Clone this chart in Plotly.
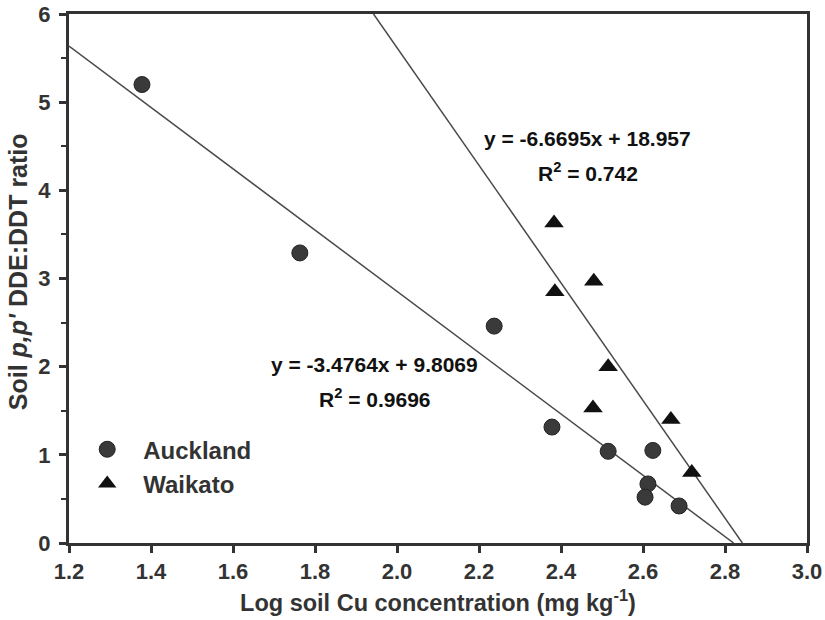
import numpy as np
import plotly.graph_objects as go

# Log soil Cu concentration vs soil p,p'-DDE:DDT ratio
auckland_x = [1.378, 1.763, 2.237, 2.378, 2.515, 2.624, 2.612, 2.605, 2.688]
auckland_y = [5.20, 3.29, 2.46, 1.315, 1.04, 1.05, 0.67, 0.52, 0.42]

waikato_x = [2.383, 2.385, 2.480, 2.515, 2.478, 2.668, 2.719]
waikato_y = [3.63, 2.85, 2.97, 2.00, 1.53, 1.40, 0.80]

# Linear fits (slope, intercept, R^2)
auckland_fit = (-3.4764, 9.8069, 0.9696)
waikato_fit = (-6.6695, 18.957, 0.742)

x_ticks = [1.2, 1.4, 1.6, 1.8, 2.0, 2.2, 2.4, 2.6, 2.8, 3.0]
y_ticks = [0, 1, 2, 3, 4, 5, 6]
x_range = [1.2, 3.0]
y_range = [0, 6]

TEXT = "#333333"
FONT = "Arial, Liberation Sans, sans-serif"


def fit_segment(slope, intercept):
    # clip the fitted line to the plotting window
    x0 = max(x_range[0], (y_range[1] - intercept) / slope)
    x1 = min(x_range[1], (y_range[0] - intercept) / slope)
    xs = np.array([x0, x1])
    return xs, slope * xs + intercept


fig = go.Figure()

for slope, intercept, _ in (auckland_fit, waikato_fit):
    xs, ys = fit_segment(slope, intercept)
    fig.add_trace(go.Scatter(x=xs, y=ys, mode="lines", showlegend=False,
                             line=dict(color="#4a4a4a", width=1.5),
                             hoverinfo="skip"))

fig.add_trace(go.Scatter(
    x=auckland_x, y=auckland_y, mode="markers", name="<b>Auckland</b>",
    marker=dict(symbol="circle", size=16, color="#3a3a3a",
                line=dict(color="#222222", width=1)),
))
fig.add_trace(go.Scatter(
    x=waikato_x, y=waikato_y, mode="markers", name="<b>Waikato</b>",
    marker=dict(symbol="triangle-up", size=17, color="#111111",
                line=dict(width=0)),
))


def eq_text(slope, intercept):
    sign = "+" if intercept >= 0 else "-"
    return f"<b>y = {slope:.4f}x {sign} {abs(intercept):g}</b>"


ann_font = dict(family=FONT, size=21, color="#111111")
annotations = [
    dict(x=2.465, y=4.59, text=eq_text(*waikato_fit[:2])),
    dict(x=2.465, y=4.21, text=f"<b>R<sup>2</sup> = {waikato_fit[2]:g}</b>"),
    dict(x=1.946, y=2.02, text=eq_text(*auckland_fit[:2])),
    dict(x=1.946, y=1.65, text=f"<b>R<sup>2</sup> = {auckland_fit[2]:g}</b>"),
]
for a in annotations:
    fig.add_annotation(**a, xref="x", yref="y", showarrow=False, font=ann_font,
                       xanchor="center", yanchor="middle")

# y-axis title placed as a rotated label beside the axis
fig.add_annotation(
    x=-0.069, y=0.512, xref="paper", yref="paper", showarrow=False,
    text="<b>Soil <i>p,p'</i> DDE:DDT ratio</b>", textangle=-90,
    font=dict(family=FONT, size=25, color=TEXT),
    xanchor="center", yanchor="middle",
)

axis_common = dict(
    showline=True, linewidth=3, linecolor="#333333", mirror=True,
    showgrid=False, zeroline=False, automargin=False,
    ticks="outside", ticklen=7, tickwidth=3, tickcolor="#333333",
    tickfont=dict(family=FONT, size=22, color=TEXT),
)

fig.update_xaxes(
    range=x_range, tickmode="array", tickvals=x_ticks,
    ticktext=[f"<b>{v:.1f}</b>" for v in x_ticks],
    title=dict(text="<b>Log soil Cu concentration (mg kg<sup>-1</sup>)</b>",
               font=dict(family=FONT, size=23.5, color=TEXT),
               standoff=12),
    **axis_common,
)
fig.update_yaxes(
    range=y_range, tickmode="array", tickvals=y_ticks,
    ticktext=[f"<b>{v}</b>" for v in y_ticks],
    ticklabelstandoff=4,
    minor=dict(dtick=0.5, ticks="outside", ticklen=5, tickwidth=2,
               tickcolor="#333333"),
    **axis_common,
)

fig.update_layout(
    width=825, height=620,
    margin=dict(l=69, r=18, t=14, b=77, autoexpand=False),
    paper_bgcolor="white", plot_bgcolor="white",
    legend=dict(x=0.003, y=0.219, xanchor="left", yanchor="top",
                itemwidth=62, bgcolor="rgba(0,0,0,0)", tracegroupgap=0,
                font=dict(family=FONT, size=24, color=TEXT)),
)

fig.write_html("out.html")
